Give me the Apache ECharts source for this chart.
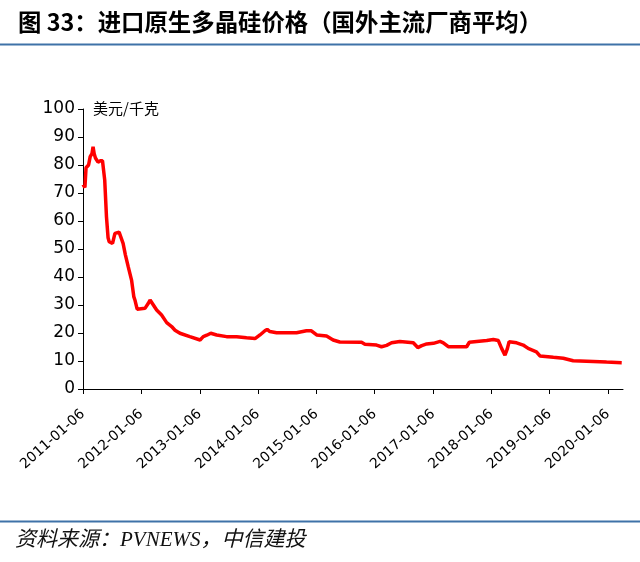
<!DOCTYPE html>
<html>
<head>
<meta charset="utf-8">
<script src="https://cdn.jsdelivr.net/npm/echarts@6/dist/echarts.min.js"></script>
<style>
html,body{margin:0;padding:0;background:#fff;}
#chart{width:640px;height:562px;}
</style>
</head>
<body>
<div id="chart"></div>
<script>
var dates = ['2011-01-06','2011-01-18','2011-01-25','2011-02-10','2011-02-20','2011-03-03','2011-03-10','2011-03-17','2011-03-25','2011-04-10','2011-04-25','2011-05-08','2011-05-22','2011-06-02','2011-06-12','2011-06-19','2011-07-10','2011-07-25','2011-08-20','2011-09-14','2011-09-28','2011-10-16','2011-11-06','2011-11-20','2011-11-27','2011-12-11','2012-01-29','2012-02-19','2012-03-01','2012-03-11','2012-04-11','2012-05-12','2012-06-13','2012-07-14','2012-08-04','2012-09-04','2012-11-05','2013-01-08','2013-01-28','2013-02-19','2013-03-16','2013-04-22','2013-06-23','2013-08-25','2013-10-26','2013-12-18','2014-01-18','2014-02-18','2014-03-04','2014-03-21','2014-05-02','2014-09-04','2014-11-05','2014-12-06','2015-01-08','2015-03-11','2015-04-21','2015-06-02','2015-10-16','2015-11-06','2016-01-18','2016-02-18','2016-03-21','2016-04-21','2016-06-12','2016-09-04','2016-10-02','2016-10-27','2016-11-27','2017-01-08','2017-02-19','2017-03-11','2017-04-11','2017-08-04','2017-08-21','2017-10-06','2017-12-08','2018-01-18','2018-02-18','2018-03-11','2018-04-01','2018-04-15','2018-04-27','2018-06-13','2018-07-24','2018-08-24','2018-10-15','2018-11-06','2019-01-29','2019-04-01','2019-06-02','2019-08-25','2019-12-28','2020-04-01'];
var prices = [73,72,79,80,83,84,86.5,84,82.5,81,81.5,81.5,74.6,61.5,54,52.6,52,55.6,56,52,48,43.7,38.9,33,31.8,28.5,28.8,30.6,31.8,31.5,28.2,26.4,23.7,22.3,21,19.9,18.7,17.5,18.7,19.2,19.9,19.3,18.7,18.7,18.3,18,19.3,20.8,21.3,20.5,20.1,20.1,20.8,20.8,19.3,18.9,17.5,16.8,16.7,16,15.7,15.1,15.6,16.5,17,16.5,14.8,15.5,16.1,16.3,17,16.5,15.1,15.1,16.7,17,17.3,17.7,17.3,14.5,12.1,14.2,16.9,16.5,15.7,14.5,13.3,11.8,11.3,11,10.1,9.9,9.6,9.4];
var xTickLabels = ['2011-01-06','2012-01-06','2013-01-06','2014-01-06','2015-01-06','2016-01-06','2017-01-06','2018-01-06','2019-01-06','2020-01-06'];
var yTicks = [0,10,20,30,40,50,60,70,80,90,100];
var axisStartDate = '2011-01-06';
var axisEndDate = '2020-04-09';
var titleText = '图 33：进口原生多晶硅价格（国外主流厂商平均）';
var unitText = '美元/千克';
var sourceText = '资料来源：PVNEWS，中信建投';

var DAY = 86400000;
var t0 = Date.parse(axisStartDate);
function toT(d){ return (Date.parse(d) - t0) / (365.25 * DAY); }
var tickVals = xTickLabels.map(toT);
var seriesData = dates.map(function(d,i){ return [toT(d), prices[i]]; });

var chart = echarts.init(document.getElementById('chart'));
chart.setOption({
  backgroundColor:'#ffffff',
  animation:false,
  grid:{left:83,right:17,top:109,bottom:173,containLabel:false},
  xAxis:{
    type:'value', min:0, max:toT(axisEndDate),
    splitLine:{show:false},
    axisLine:{lineStyle:{color:'#000',width:1}},
    axisTick:{show:true,length:5,lineStyle:{color:'#000'},customValues:tickVals},
    axisLabel:{
      customValues:tickVals, rotate:42, margin:23,
      fontFamily:'DejaVu Sans', fontSize:14, color:'#000',
      formatter:function(v){
        for(var i=0;i<tickVals.length;i++){ if(Math.abs(tickVals[i]-v)<1e-6) return xTickLabels[i]; }
        return '';
      }
    }
  },
  yAxis:{
    type:'value', min:yTicks[0], max:yTicks[yTicks.length-1], interval:yTicks[1]-yTicks[0],
    splitLine:{show:false},
    axisLine:{show:true,lineStyle:{color:'#000',width:1}},
    axisTick:{show:true,length:5,lineStyle:{color:'#000'}},
    axisLabel:{margin:8,fontFamily:'DejaVu Sans',fontSize:17,color:'#000'}
  },
  series:[{
    type:'line', data:seriesData, showSymbol:false, symbol:'none',
    lineStyle:{color:'#ff0000',width:3.5}, z:3
  }],
  graphic:[
    {type:'text',left:18,top:10,style:{text:titleText,fontFamily:'Noto Sans CJK SC',fontWeight:'bold',fontSize:23.4,fill:'#000'}},
    {type:'line',shape:{x1:0,y1:44.5,x2:640,y2:44.5},style:{stroke:'#3f72a8',lineWidth:2}},
    {type:'text',left:93,top:101,style:{text:unitText,fontFamily:'Noto Sans CJK SC',fontSize:15,fill:'#000'}},
    {type:'line',shape:{x1:0,y1:521.5,x2:640,y2:521.5},style:{stroke:'#3f72a8',lineWidth:2}},
    {type:'text',left:15,top:530,style:{text:sourceText,fontFamily:'Liberation Serif, Noto Sans CJK SC',fontStyle:'italic',fontSize:21,fill:'#111'}}
  ]
});
</script>
</body>
</html>
